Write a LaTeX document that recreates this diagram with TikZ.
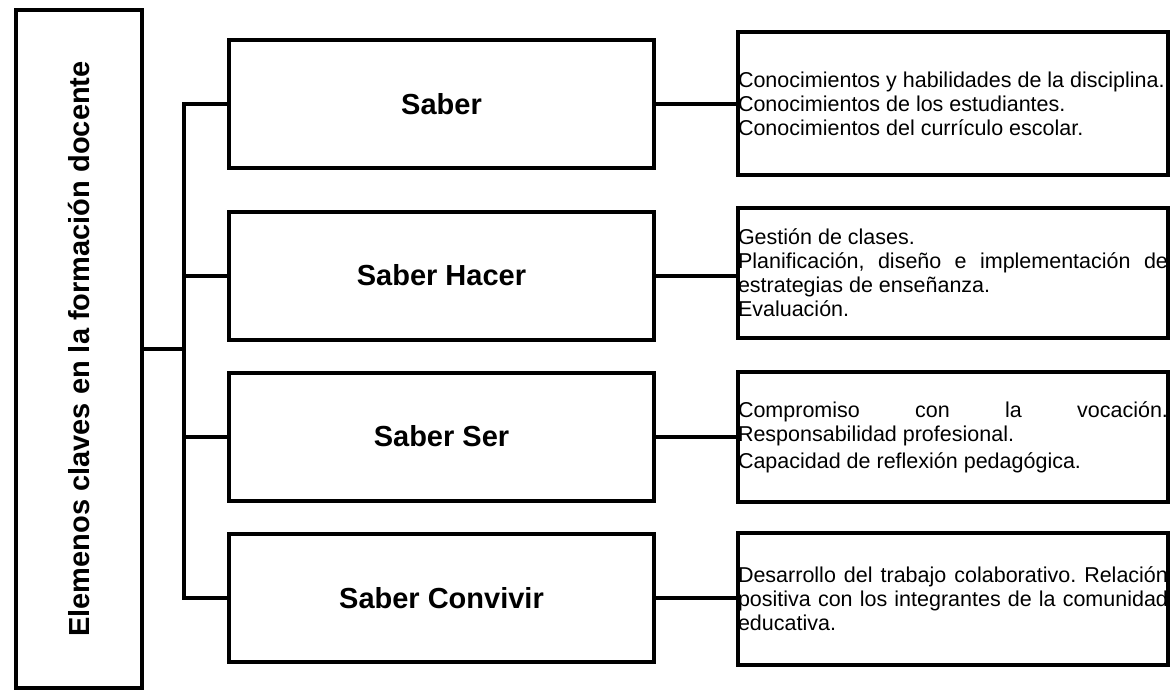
\documentclass[tikz,border=0pt]{standalone}
\usepackage{fontspec}
\setmainfont{Liberation Sans}
\frenchspacing
\begin{document}
\begin{tikzpicture}[
  x=0.5pt, y=-0.5pt,
  link/.style={line width=2pt},
  rootbox/.style={rectangle, draw, line width=2pt, minimum width=63pt, minimum height=339pt, inner sep=0pt},
  saber/.style={rectangle, draw, line width=2pt, minimum width=212.5pt, minimum height=64pt, font=\fontsize{14.5}{17}\selectfont\bfseries},
  detail/.style={rectangle, draw, line width=2pt, text width=215pt, inner xsep=0pt, inner ysep=0pt, align=justify, font=\fontsize{10.75}{12}\selectfont},
  ]
 \useasboundingbox (0,0) rectangle (1175,692);

 % left column
 \node [rootbox] (root) at (79,349) {};
 \node [rotate=90, font=\fontsize{14.5}{17}\selectfont\bfseries] (roottext) at (root) {Elemenos claves en la formación docente};

 % the four kinds of knowledge
 \node [saber] (s1) at (441.5,104) {Saber};
 \node [saber] (s2) at (441.5,275.5) {Saber Hacer};
 \node [saber] (s3) at (441.5,436.5) {Saber Ser};
 \node [saber] (s4) at (441.5,598) {Saber Convivir};

 % what each one covers
 \node [detail, minimum height=71.5pt] (d1) at (953,103.5) {Conocimientos y habilidades de la disciplina.\\
    Conocimientos de los estudiantes.\\
    Conocimientos del currículo escolar.};
 \node [detail, minimum height=65pt] (d2) at (953,273) {Gestión de clases.\\
    Planificación, diseño e implementación de\linebreak
    estrategias de enseñanza.\\
    Evaluación.};
 \node [detail, minimum height=65pt] (d3) at (953,437) {Compromiso con la vocación.\linebreak
    Responsabilidad profesional.\par\vspace{1.5pt}
    Capacidad de reflexión pedagógica.};
 \node [detail, minimum height=66pt] (d4) at (953,599) {Desarrollo del trabajo colaborativo. Relación\linebreak
    positiva con los integrantes de la comunidad\linebreak
    educativa.};

 % tree
 \coordinate (trunk) at (184,0);
 \draw [link] (s1.west) -- (s1.west -| trunk) -- (s4.west -| trunk) -- (s4.west);
 \draw [link] (s2.west -| trunk) -- (s2.west);
 \draw [link] (s3.west -| trunk) -- (s3.west);
 \draw [link] (root.east) -- (root.east -| trunk);
 \foreach \i in {1,...,4}
   \draw [link] (s\i.east) -- (s\i.east -| d\i.west);
\end{tikzpicture}
\end{document}
